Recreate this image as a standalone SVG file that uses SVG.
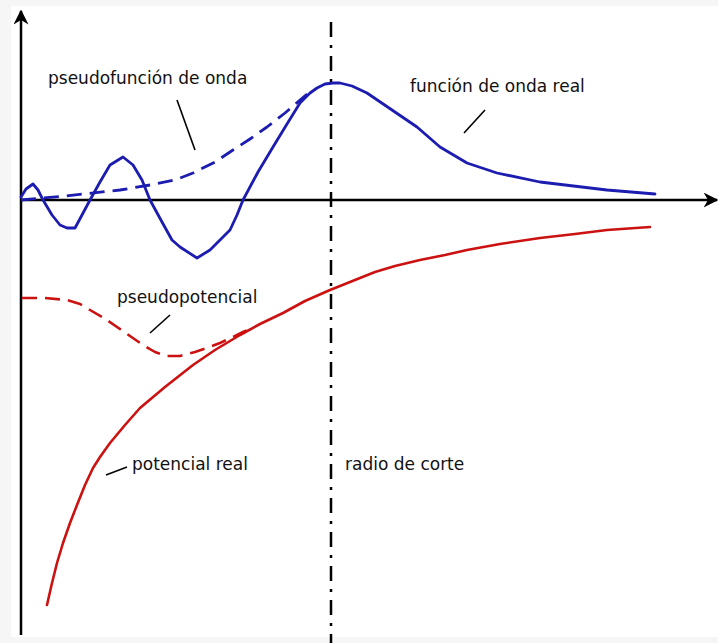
<svg xmlns="http://www.w3.org/2000/svg" width="718" height="643" viewBox="0 0 718 643">
<defs>
<style>
.ax{stroke:#000;stroke-width:2.5;fill:none}
.blue{stroke:#1c1cb0;stroke-width:2.8;fill:none;stroke-linejoin:round;stroke-linecap:round}
.red{stroke:#cc1111;stroke-width:2.6;fill:none;stroke-linejoin:round;stroke-linecap:round}
.dash{stroke-dasharray:15,8;stroke-linecap:butt}
.lead{stroke:#000;stroke-width:1.6;fill:none}
.lbl{font-family:"DejaVu Sans",sans-serif;font-size:17px;fill:#111}
</style>
<marker id="arr" viewBox="0 0 10 10" refX="9" refY="5" markerWidth="6" markerHeight="6" orient="auto" markerUnits="strokeWidth">
<path d="M0,0 L10,5 L0,10 L3,5 Z" fill="#000"/>
</marker>
</defs>
<rect x="0" y="0" width="718" height="643" fill="#f6f6f6"/>
<rect x="11" y="6" width="707" height="631" fill="#fff"/>
<g id="connectors">
<line id="yaxis" class="ax" x1="21" y1="635" x2="21" y2="11" marker-end="url(#arr)"/>
<line id="xaxis" class="ax" x1="21" y1="200" x2="717" y2="200" marker-end="url(#arr)"/>
<line id="cutoff" x1="331" y1="22" x2="331" y2="643" stroke="#000" stroke-width="2.5" stroke-dasharray="15,8,3,8"/>
<polyline id="pseudowave" class="blue dash" points="21,200 65,196 120,190 150,185 175,180 193,173 215,162 233,150 250,139 267,127 285,113 300,100 312,90"/>
<polyline id="realwave" class="blue" points="21,197 26,189 33,184 38,190 43,200 52,215 60,225 67,228 75,228 82,215 90,200 100,182 110,165 123,157 133,165 142,180 150,200 162,222 172,240 180,247 197,258 210,250 220,240 230,230 237,215 243,200 258,172 273,147 287,124 300,103 310,93 317,88 325,84 333,83 340,83 352,86 367,93 392,110 417,127 440,147 467,163 497,173 540,182 607,190 655,194"/>
<polyline id="pseudopot" class="red dash" points="22,298 45,298 67,300 80,304 90,310 104,318 117,327 130,336 143,345 155,352 167,356 180,356 195,352 207,348 220,343 233,337 243,332 253,328"/>
<polyline id="realpot" class="red" points="47,605 52,583 57,563 63,543 70,523 77,505 85,485 93,468 100,457 110,443 125,425 140,408 165,387 193,365 215,350 240,335 260,324 283,313 305,301 330,290 345,284 360,278 375,272 395,266 420,260 445,255 467,250 500,244 540,238 575,234 607,230 650,227"/>
<line class="lead" x1="177" y1="100" x2="195" y2="150"/>
<line class="lead" x1="485" y1="110" x2="464" y2="133"/>
<line class="lead" x1="170" y1="315" x2="150" y2="333"/>
<line class="lead" x1="127" y1="467" x2="106" y2="475"/>
</g>
<g id="label-pseudofuncion"><text class="lbl" x="48" y="84">pseudofunción de onda</text></g>
<g id="label-funcion-real"><text class="lbl" x="410" y="92">función de onda real</text></g>
<g id="label-pseudopotencial"><text class="lbl" x="117" y="303">pseudopotencial</text></g>
<g id="label-potencial-real"><text class="lbl" x="132" y="470">potencial real</text></g>
<g id="label-radio"><text class="lbl" x="345" y="470">radio de corte</text></g>
</svg>
